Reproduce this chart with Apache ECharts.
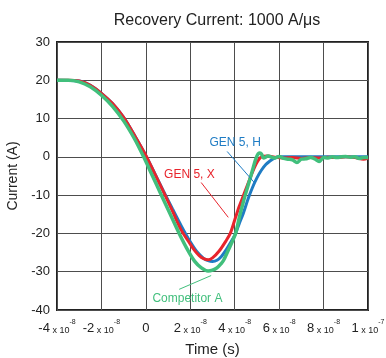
<!DOCTYPE html>
<html>
<head>
<meta charset="utf-8">
<script src="https://cdn.jsdelivr.net/npm/echarts@6/dist/echarts.min.js"></script>
<style>
  html, body { margin: 0; padding: 0; background: #fff; }
  #chart { width: 386px; height: 358px; }
</style>
</head>
<body>
<div id="chart"></div>
<script>
// time in ns, current in A
const tRed = [-40, -35, -30, -25, -20, -15, -10, -5, 0, 4, 8, 12, 16, 20, 22, 24, 26, 28, 30, 33, 36, 38, 40, 42, 44, 46, 48, 50, 52, 55, 58, 62, 66, 70, 74, 78, 82, 86, 90, 94, 98, 100];
const iRed = [20, 20, 19.8, 18.7, 16.6, 13.9, 10.3, 5.5, 0.4, -4.4, -9.2, -14.2, -19.2, -22.8, -24.5, -25.8, -26.6, -26.9, -26.4, -24.6, -22, -20, -16.5, -13, -10, -7, -4, -1.5, 0, 0.2, -0.1, -0.3, -0.2, -0.4, -0.2, -0.3, -0.1, -0.2, 0, -0.2, -0.6, -0.3];

const tBlue = [-40, -30, -25, -20, -15, -10, -5, 0, 4, 8, 12, 16, 20, 23, 26, 28, 30, 32, 34, 36, 38, 40, 42, 44, 46, 48, 50, 52, 54, 56, 58, 60, 64, 70, 80, 90, 100];
const iBlue = [20, 19.8, 18.7, 16.6, 13.9, 10.3, 5.5, 0.3, -4.3, -9, -13.6, -18.1, -22.2, -24.8, -26.5, -27.1, -27.3, -27, -26, -24.4, -22.5, -20.5, -17.5, -14.5, -11, -8, -5.5, -3.5, -2, -1, -0.3, 0, 0, 0, 0, 0, 0];

const tGreen = [-40, -35, -30, -25, -20, -15, -10, -5, -1, 3, 7, 11, 15, 19, 22, 25, 28, 30, 32, 34, 35, 37, 39, 40.5, 42, 44, 46, 48, 49.5, 51, 52, 53, 55, 58, 60, 62, 64, 66, 68, 70, 72, 74, 76, 78, 80, 82, 84, 86, 88, 90, 92, 94, 96, 98, 100];
const iGreen = [20, 20, 19.6, 18.3, 16.1, 13.2, 9.4, 4.6, 0, -5, -10, -15, -20, -24.5, -27.3, -29, -29.8, -29.6, -29, -27.8, -27, -24.5, -22, -19.8, -16, -11.5, -7.5, -3.5, -0.5, 1.0, 0.8, -0.3, 0.2, -0.3, 0.1, -0.4, -0.6, -0.8, -1.5, -0.6, -0.5, -0.2, -0.5, -1.2, -0.2, -0.3, 0, -0.2, 0, 0.1, -0.1, 0, -0.4, -0.2, -0.2];

const xTicks = [-40, -20, 0, 20, 40, 60, 80, 100];
const yTicks = [-40, -30, -20, -10, 0, 10, 20, 30];

const RED = '#e8242c';
const BLUE = '#1f7cc4';
const GREEN = '#41bf7c';
const GRID = '#4d4d4d';

function pair(t, v) {
  return t.map((x, k) => [x, v[k]]);
}

// -40 -> "-4 x 10^-8"
function timeLabel(ns) {
  if (ns === 0) return '{m|0}';
  const s = ns * 1e-9;
  const exp = Math.floor(Math.log10(Math.abs(s)) + 1e-9);
  const man = Math.round(s / Math.pow(10, exp));
  return '{m|' + man + '}{x| x 10}{e|' + exp + '}';
}

function arrow(color, from, to) {
  return {
    silent: true,
    symbol: ['none', 'arrow'],
    symbolSize: [0, 7],
    label: { show: false },
    lineStyle: { color: color, width: 1, type: 'solid' },
    data: [[{ coord: from }, { coord: to }]]
  };
}

function note(color, text, at) {
  return {
    silent: true,
    symbol: 'circle',
    symbolSize: 0,
    label: {
      show: true,
      position: 'inside',
      formatter: text,
      color: color,
      fontSize: 12,
      fontFamily: 'Liberation Sans, Arial, sans-serif'
    },
    data: [{ coord: at }]
  };
}

const chart = echarts.init(document.getElementById('chart'));

chart.setOption({
  animation: false,
  backgroundColor: '#fff',
  textStyle: { fontFamily: 'Liberation Sans, Arial, sans-serif', color: '#222' },
  title: {
    text: 'Recovery Current: 1000 A/\u03bcs',
    left: 212, top: 8, textAlign: 'center',
    textStyle: { fontSize: 16, fontWeight: 'normal', color: '#222' }
  },
  grid: {
    left: 57, right: 18, top: 42, bottom: 48,
    outerBoundsMode: 'none',
    show: true, borderColor: '#222', borderWidth: 2
  },
  xAxis: {
    type: 'value',
    min: xTicks[0], max: xTicks[xTicks.length - 1], interval: 20,
    name: 'Time (s)', nameLocation: 'middle', nameGap: 32,
    nameTextStyle: { fontSize: 15, color: '#222' },
    axisLine: { show: false },
    axisTick: { show: false },
    splitLine: { show: true, lineStyle: { color: GRID, width: 1 } },
    axisLabel: {
      margin: 9,
      formatter: timeLabel,
      rich: {
        m: { fontSize: 13, color: '#222', lineHeight: 16, verticalAlign: 'bottom' },
        x: { fontSize: 9, color: '#222', lineHeight: 16, verticalAlign: 'bottom' },
        e: { fontSize: 7, color: '#222', lineHeight: 16, verticalAlign: 'top' }
      }
    }
  },
  yAxis: {
    type: 'value',
    min: yTicks[0], max: yTicks[yTicks.length - 1], interval: 10,
    name: 'Current (A)', nameLocation: 'middle', nameGap: 35,
    nameTextStyle: { fontSize: 14, color: '#222' },
    axisLine: { show: false },
    axisTick: { show: false },
    splitLine: { show: true, lineStyle: { color: GRID, width: 1 } },
    axisLabel: { fontSize: 13, color: '#222', margin: 7 }
  },
  series: [
    {
      name: 'GEN 5, H', type: 'line', data: pair(tBlue, iBlue),
      smooth: 0.3, showSymbol: false, lineStyle: { color: BLUE, width: 3 },
      markLine: arrow(BLUE, [36.6, 1.4], [48.8, -6.7]),
      markPoint: note(BLUE, 'GEN 5, H', [40.2, 3.7])
    },
    {
      name: 'GEN 5, X', type: 'line', data: pair(tRed, iRed),
      smooth: 0.3, showSymbol: false, lineStyle: { color: RED, width: 3 },
      markLine: arrow(RED, [24.9, -6.7], [37.1, -15.8]),
      markPoint: note(RED, 'GEN 5, X', [19.6, -4.6])
    },
    {
      name: 'Competitor A', type: 'line', data: pair(tGreen, iGreen),
      smooth: 0.3, showSymbol: false, lineStyle: { color: GREEN, width: 3.5 },
      markLine: arrow(GREEN, [15, -34.6], [29.4, -31]),
      markPoint: note(GREEN, 'Competitor A', [18.7, -37])
    }
  ]
});
</script>
</body>
</html>
